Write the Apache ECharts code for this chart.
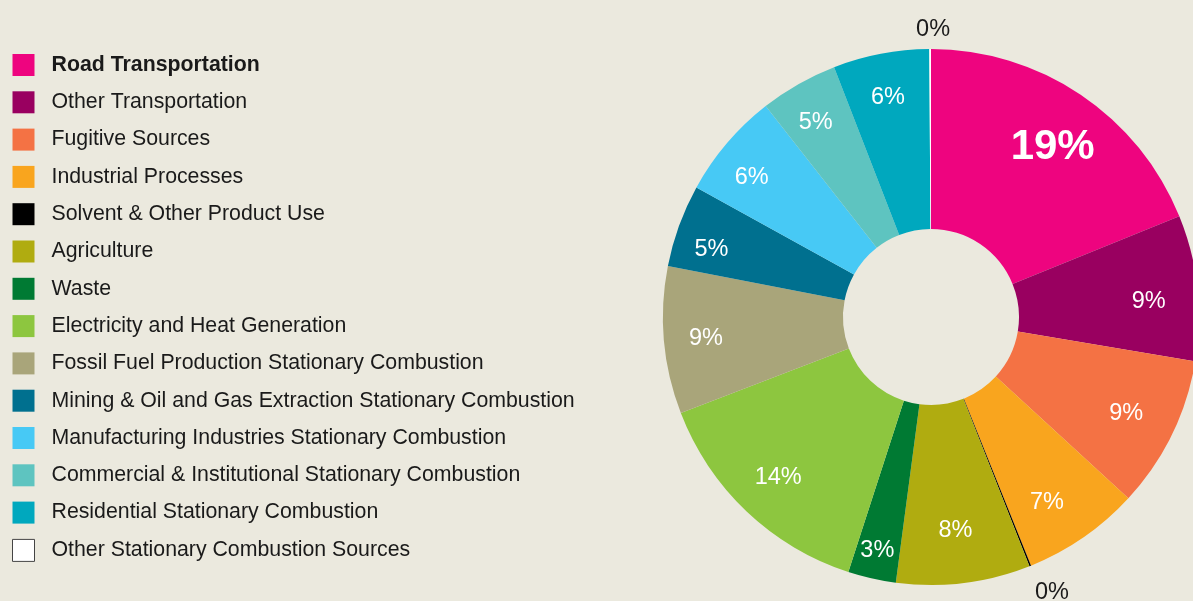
<!DOCTYPE html>
<html>
<head>
<meta charset="utf-8">
<script src="https://cdn.jsdelivr.net/npm/echarts@6/dist/echarts.min.js"></script>
<style>
html,body{margin:0;padding:0;background:#EBE9DE;}
#chart{width:1193px;height:601px;}
</style>
</head>
<body>
<div id="chart"></div>
<script>
const categories = [
  'Road Transportation',
  'Other Transportation',
  'Fugitive Sources',
  'Industrial Processes',
  'Solvent & Other Product Use',
  'Agriculture',
  'Waste',
  'Electricity and Heat Generation',
  'Fossil Fuel Production Stationary Combustion',
  'Mining & Oil and Gas Extraction Stationary Combustion',
  'Manufacturing Industries Stationary Combustion',
  'Commercial & Institutional Stationary Combustion',
  'Residential Stationary Combustion',
  'Other Stationary Combustion Sources'
];
const values = [18.9, 8.8, 9.2, 7.1, 0.1, 8.1, 2.9, 14.2, 8.9, 5.0, 6.4, 4.7, 5.8, 0.1];
const colors = ['#EE047F','#990060','#F47244','#F9A51E','#000000','#B0AC10','#007A33',
  '#8DC63F','#A9A57A','#00708F','#47C9F5','#5EC4C0','#00A8BE','#FFFFFF'];
// label nudges (style only): [dx, dy] in px
const labelNudge = [[-4,17],[-6,9],[-7,-2],[-12,0],[12,2],[-3,-10],[-4,14],[2,-3],[-1,2],[-8,9],[-8,6],[-4,1],[-1,2],[3,7]];

const FONT = '"Liberation Sans", Arial, sans-serif';
const fmt = p => Math.round(p.value) + '%';
const nudge = p => ({ dx: labelNudge[p.dataIndex][0], dy: labelNudge[p.dataIndex][1] });

const mainData = categories.map((n, i) => ({ name: n, value: values[i], itemStyle: { color: colors[i] } }));

const innerLabelData = categories.map((n, i) => {
  const d = { name: n, value: values[i], label: {} };
  if (Math.round(values[i]) === 0) d.label.show = false;
  if (i === 0) { d.label.fontSize = 42; d.label.fontWeight = 'bold'; }
  return d;
});
const outerLabelData = categories.map((n, i) => {
  const d = { name: n, value: values[i], label: {} };
  if (Math.round(values[i]) !== 0) d.label.show = false;
  return d;
});

const legendData = categories.map((n, i) => {
  const d = { name: n };
  if (i === 0) d.textStyle = { fontWeight: 'bold' };
  if (colors[i] === '#FFFFFF') d.itemStyle = { borderColor: '#444', borderWidth: 1 };
  return d;
});

const chart = echarts.init(document.getElementById('chart'));
chart.setOption({
  backgroundColor: '#EBE9DE',
  animation: false,
  legend: {
    orient: 'vertical',
    left: 12,
    top: 54,
    padding: 0,
    itemWidth: 22,
    itemHeight: 22,
    itemGap: 15.3,
    icon: 'rect',
    selectedMode: false,
    data: legendData,
    textStyle: { fontSize: 21.3, color: '#1a1a1a', fontFamily: FONT, padding: [0, 0, 0, 12] }
  },
  series: [
    {
      type: 'pie',
      center: [931, 317],
      radius: [88, 268],
      startAngle: 90,
      clockwise: true,
      silent: true,
      label: { show: false },
      labelLine: { show: false },
      itemStyle: { borderWidth: 0 },
      data: mainData
    },
    {
      type: 'pie',
      center: [931, 317],
      radius: [0, 444],
      startAngle: 90,
      clockwise: true,
      silent: true,
      itemStyle: { color: 'rgba(0,0,0,0)' },
      label: { show: true, position: 'inside', color: '#ffffff', fontSize: 23.5, fontFamily: FONT, formatter: fmt },
      labelLine: { show: false },
      labelLayout: nudge,
      data: innerLabelData
    },
    {
      type: 'pie',
      center: [931, 317],
      radius: [0, 582],
      startAngle: 90,
      clockwise: true,
      silent: true,
      itemStyle: { color: 'rgba(0,0,0,0)' },
      label: { show: true, position: 'inside', color: '#1a1a1a', fontSize: 23.5, fontFamily: FONT, formatter: fmt },
      labelLine: { show: false },
      labelLayout: nudge,
      data: outerLabelData
    }
  ]
});
</script>
</body>
</html>
